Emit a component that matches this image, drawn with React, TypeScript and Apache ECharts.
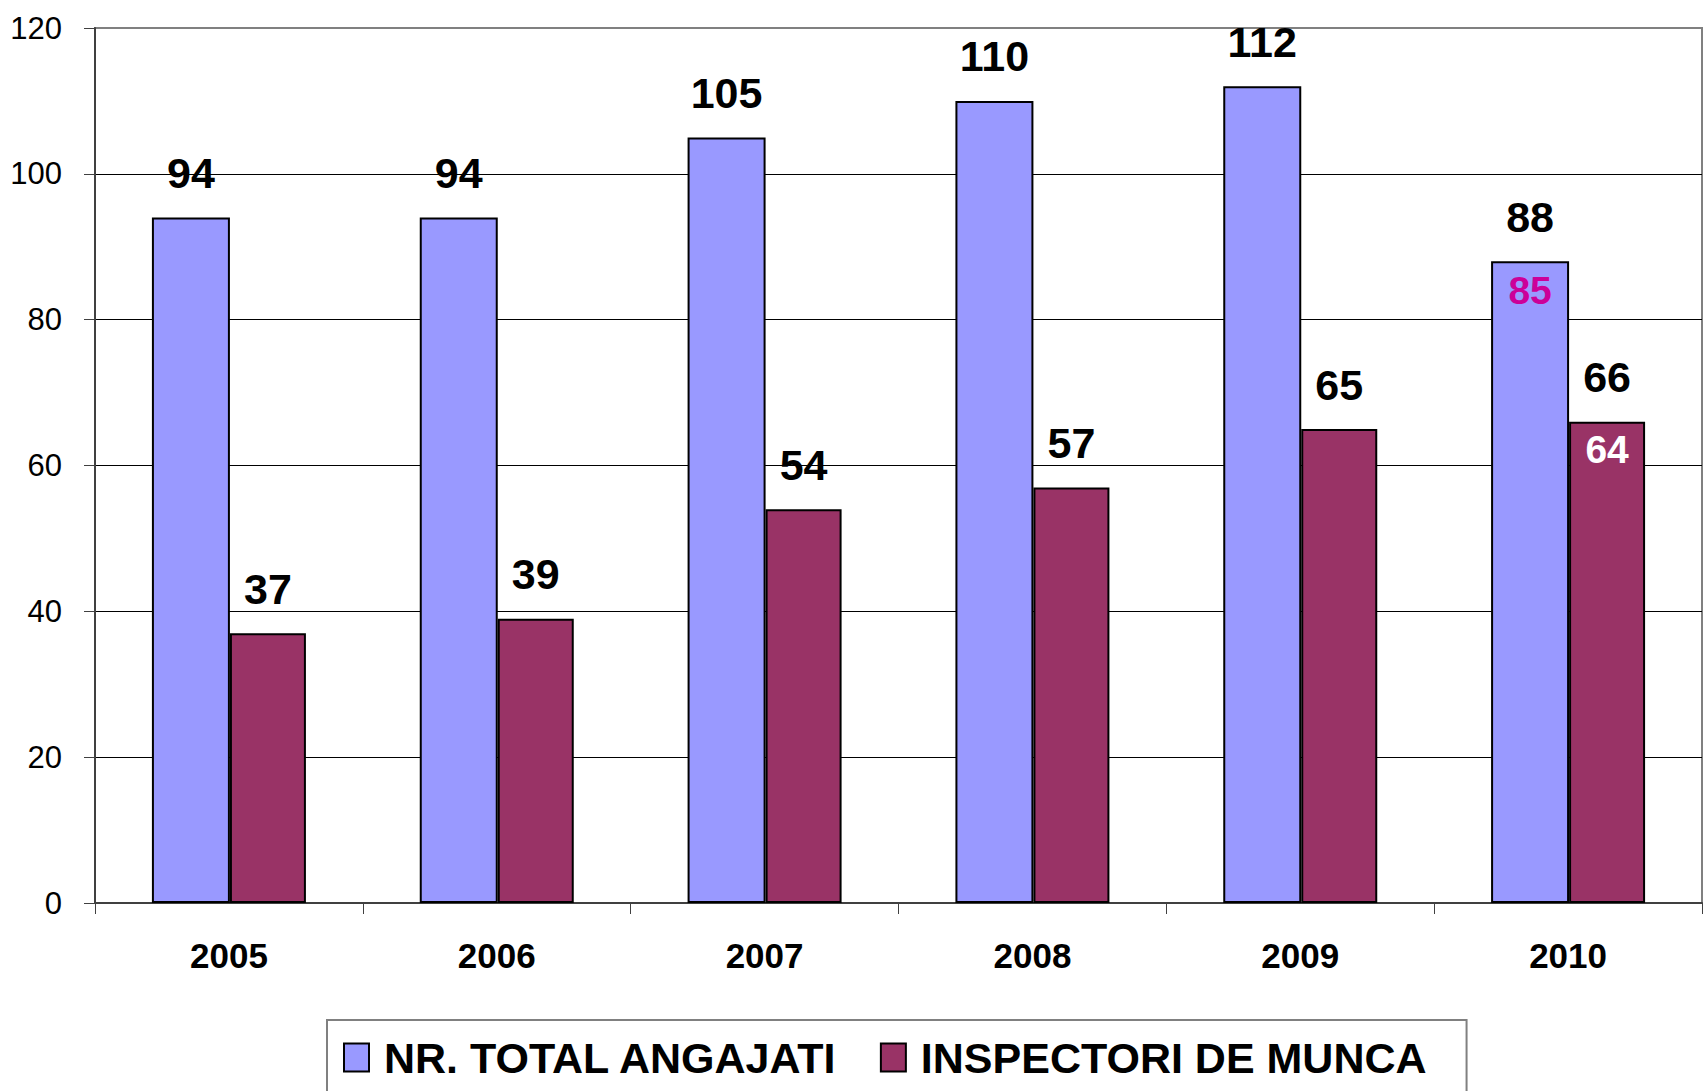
import React, { useEffect, useRef } from "react";
import * as echarts from "echarts";

const categories = ["2005", "2006", "2007", "2008", "2009", "2010"];
const totalEmployees = [94, 94, 105, 110, 112, 88];
const labourInspectors = [37, 39, 54, 57, 65, 66];
const occupiedEmployees = [null, null, null, null, null, 85];
const occupiedInspectors = [null, null, null, null, null, 64];
const yTicks = { min: 0, max: 120, interval: 20 };
const seriesNames = ["NR. TOTAL ANGAJATI", "INSPECTORI DE MUNCA"];

const SANS = '"Liberation Sans", Arial, sans-serif';

function innerMarks(values: (number | null)[], tops: number[], color: string) {
  const data: any[] = [];
  values.forEach((v, i) => {
    if (v != null) {
      data.push({ coord: [categories[i], tops[i]], value: v, label: { color } });
    }
  });
  return data;
}

export default function App() {
  const ref = useRef<HTMLDivElement>(null);
  useEffect(() => {
    document.body.style.margin = "0";
    const chart = echarts.init(ref.current!, null, { renderer: "svg" });
    const labelTop = {
      show: true,
      position: "top",
      distance: 23,
      color: "#000",
      fontFamily: SANS,
      fontWeight: "bold",
      fontSize: 43,
    };
    const innerLabel = {
      show: true,
      position: "inside",
      fontFamily: SANS,
      fontWeight: "bold",
      fontSize: 39,
      formatter: "{c}",
    };
    chart.setOption({
      animation: false,
      backgroundColor: "#fff",
      grid: {
        left: 95,
        right: 2,
        top: 28,
        bottom: 188,
        show: true,
        borderColor: "#808080",
        borderWidth: 2,
      },
      legend: {
        left: 327,
        top: 1020,
        orient: "horizontal",
        padding: [16, 40, 40, 16],
        itemGap: 42,
        itemWidth: 25,
        itemHeight: 28,
        icon: "rect",
        borderColor: "#808080",
        borderWidth: 2,
        backgroundColor: "#fff",
        textStyle: {
          fontFamily: SANS,
          fontWeight: "bold",
          fontSize: 43,
          color: "#000",
          padding: [0, 0, 0, 10],
        },
        data: seriesNames,
      },
      xAxis: {
        type: "category",
        data: categories,
        axisLine: { lineStyle: { color: "#404040", width: 2 } },
        axisTick: { show: true, length: 11, lineStyle: { color: "#404040", width: 1 } },
        axisLabel: {
          margin: 35,
          color: "#000",
          fontFamily: SANS,
          fontWeight: "bold",
          fontSize: 35,
        },
        splitLine: { show: false },
      },
      yAxis: {
        type: "value",
        min: yTicks.min,
        max: yTicks.max,
        interval: yTicks.interval,
        axisLine: { show: true, lineStyle: { color: "#404040", width: 2 } },
        axisTick: { show: true, length: 11, lineStyle: { color: "#404040", width: 1 } },
        axisLabel: {
          margin: 33,
          color: "#000",
          fontFamily: SANS,
          fontSize: 31,
        },
        splitLine: {
          show: true,
          showMinLine: false,
          showMaxLine: false,
          lineStyle: { color: "#000", width: 1 },
        },
      },
      series: [
        {
          name: seriesNames[0],
          type: "bar",
          data: totalEmployees,
          barWidth: 78,
          barGap: "0%",
          itemStyle: { color: "#9999FF", borderColor: "#000", borderWidth: 2 },
          label: labelTop,
          markPoint: {
            symbol: "circle",
            symbolSize: 0,
            itemStyle: { color: "transparent" },
            label: { ...innerLabel, offset: [0, 29] },
            data: innerMarks(occupiedEmployees, totalEmployees, "#CC0099"),
          },
        },
        {
          name: seriesNames[1],
          type: "bar",
          data: labourInspectors,
          barWidth: 76,
          barGap: "0%",
          itemStyle: { color: "#993366", borderColor: "#000", borderWidth: 2 },
          label: labelTop,
          markPoint: {
            symbol: "circle",
            symbolSize: 0,
            itemStyle: { color: "transparent" },
            label: { ...innerLabel, offset: [0, 28] },
            data: innerMarks(occupiedInspectors, labourInspectors, "#FFFFFF"),
          },
        },
      ],
    });
    return () => chart.dispose();
  }, []);
  return <div ref={ref} style={{ width: 1704, height: 1091 }} />;
}
